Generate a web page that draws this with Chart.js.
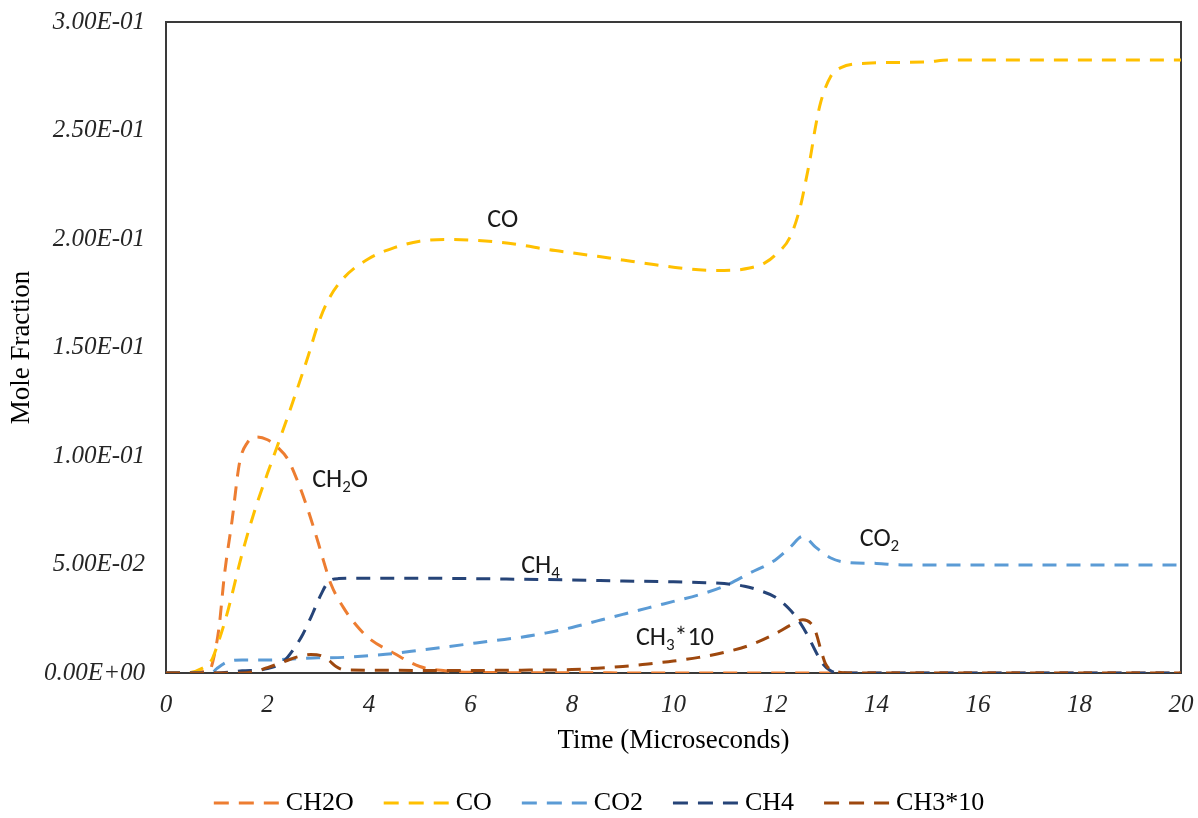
<!DOCTYPE html>
<html>
<head>
<meta charset="utf-8">
<title>Mole Fraction vs Time</title>
<script src="https://cdn.jsdelivr.net/npm/chart.js@4.4.1/dist/chart.umd.min.js"></script>
<style>
  html, body { margin: 0; padding: 0; background: #ffffff; }
  #wrap { width: 1198px; height: 818px; }
</style>
</head>
<body>
<div id="wrap"><canvas id="chart" width="1198" height="818"></canvas></div>
<script>
// ── Data ───────────────────────────────────────────────────────────────────

const xTicksMax = 20;
const yTicksMax = 0.3;

const ch2oTime = [0, 0.85, 0.95, 1.05, 1.15, 1.3, 1.45, 1.6, 1.8, 2.0, 2.2, 2.4, 2.6, 2.8, 3.0, 3.1, 3.25, 3.5, 3.75, 4.0, 4.5, 5.0, 5.5, 6.0, 8, 10, 12, 14, 16, 18, 20];
const ch2oVals = [0, 0.001, 0.008, 0.022, 0.045, 0.070, 0.097, 0.106, 0.1088, 0.1075, 0.104, 0.0985, 0.088, 0.075, 0.060, 0.052, 0.041, 0.030, 0.022, 0.016, 0.009, 0.003, 0.001, 0.0003, 0.0001, 0, 0, 0, 0, 0, 0];

const coTime = [0, 0.4, 0.7, 0.9, 1.0, 1.2, 1.5, 1.75, 2.0, 2.2, 2.5, 2.8, 3.0, 3.2, 3.5, 4.0, 4.5, 5.0, 5.5, 6.0, 6.5, 7.0, 7.5, 8.0, 8.5, 9.0, 9.5, 10.0, 10.5, 11.0, 11.5, 11.8, 12.0, 12.3, 12.5, 12.6, 12.7, 12.8, 12.9, 13.1, 13.3, 13.8, 15.0, 15.4, 20];
const coVals = [0, 0, 0.002, 0.006, 0.012, 0.027, 0.055, 0.075, 0.092, 0.105, 0.125, 0.146, 0.161, 0.172, 0.182, 0.191, 0.196, 0.199, 0.1998, 0.1995, 0.1987, 0.1972, 0.1952, 0.1936, 0.192, 0.1903, 0.1886, 0.187, 0.1858, 0.1855, 0.1866, 0.189, 0.1925, 0.201, 0.215, 0.226, 0.238, 0.252, 0.263, 0.275, 0.279, 0.281, 0.2816, 0.2825, 0.2825];

const co2Time = [0, 0.9, 1.0, 1.2, 1.5, 2.0, 2.5, 3.0, 3.5, 4.0, 4.5, 5.0, 5.5, 6.0, 6.5, 7.0, 7.5, 8.0, 8.5, 9.0, 9.5, 10.0, 10.5, 11.0, 11.5, 12.0, 12.3, 12.55, 12.8, 13.1, 13.4, 14.0, 14.5, 20];
const co2Vals = [0, 0, 0.002, 0.005, 0.006, 0.006, 0.0065, 0.007, 0.0072, 0.008, 0.009, 0.0105, 0.012, 0.0135, 0.015, 0.0165, 0.0185, 0.021, 0.024, 0.027, 0.030, 0.033, 0.036, 0.040, 0.046, 0.052, 0.058, 0.063, 0.058, 0.053, 0.051, 0.0505, 0.0498, 0.0498];

const ch4Time = [0, 1.0, 1.5, 2.0, 2.3, 2.5, 2.7, 2.9, 3.05, 3.2, 3.4, 4.0, 5.0, 6.0, 7.0, 8.0, 9.0, 10.0, 10.5, 11.0, 11.4, 11.7, 12.0, 12.3, 12.5, 12.65, 12.8, 12.95, 13.1, 13.3, 20];
const ch4Vals = [0, 0, 0.001, 0.002, 0.005, 0.0105, 0.018, 0.028, 0.036, 0.042, 0.0435, 0.0437, 0.0437, 0.0435, 0.0432, 0.0429, 0.0424, 0.042, 0.0417, 0.0412, 0.040, 0.038, 0.035, 0.029, 0.023, 0.017, 0.010, 0.004, 0.001, 0, 0];

const ch3Time = [0, 1.5, 1.8, 2.0, 2.3, 2.6, 2.85, 3.05, 3.2, 3.35, 3.5, 4.0, 5.0, 6.0, 7.0, 8.0, 8.5, 9.0, 9.5, 10.0, 10.5, 11.0, 11.5, 12.0, 12.3, 12.55, 12.7, 12.8, 12.9, 13.0, 13.2, 13.5, 20];
const ch3Vals = [0, 0, 0.001, 0.0025, 0.005, 0.0075, 0.0085, 0.008, 0.006, 0.003, 0.0015, 0.0013, 0.0012, 0.0012, 0.0013, 0.0016, 0.0022, 0.003, 0.0042, 0.0055, 0.0072, 0.0095, 0.0128, 0.018, 0.022, 0.0245, 0.023, 0.019, 0.011, 0.004, 0.0008, 0, 0];

const seriesNames  = ['CH2O', 'CO', 'CO2', 'CH4', 'CH3*10'];
const seriesColors = ['#ED7D31', '#FFC000', '#5B9BD5', '#264478', '#9E480E'];

// in-plot labels: [parts, time, value]  (parts: [text, isSubscript])
const curveLabels = [
    [[['CO', false]], 6.33, 0.2085],
    [[['CH', false], ['2', true], ['O', false]], 2.88, 0.0889],
    [[['CH', false], ['4', true]], 7.0, 0.0493],
    [[['CH', false], ['3', true], ['*10', false]], 9.26, 0.0161],
    [[['CO', false], ['2', true]], 13.67, 0.0617]
];

// ── Helpers ─────────────────────────────────────────────────────────────────

const SERIF = '"Liberation Serif", "Times New Roman", serif';
const SANS  = 'Carlito, Lato, "Open Sans", sans-serif';
const DASH  = [14, 10];

function toPoints(times, vals) {
    return times.map((t, i) => ({ x: t, y: vals[i] }));
}

function sciLabel(v) {
    if (Math.abs(v) < 1e-12) return '0.00E+00';
    const e = Math.floor(Math.log10(Math.abs(v)) + 1e-9);
    const m = v / Math.pow(10, e);
    return m.toFixed(2) + 'E' + (e < 0 ? '-' : '+') + String(Math.abs(e)).padStart(2, '0');
}

const seriesData = [
    toPoints(ch2oTime, ch2oVals),
    toPoints(coTime, coVals),
    toPoints(co2Time, co2Vals),
    toPoints(ch4Time, ch4Vals),
    toPoints(ch3Time, ch3Vals)
];

// ── Plugins ─────────────────────────────────────────────────────────────────

// Box round the plot area, drawn under the lines
const frameBox = {
    id: 'frameBox',
    beforeDatasetsDraw(chart) {
        const { ctx, chartArea: a } = chart;
        ctx.save();
        ctx.strokeStyle = '#3a3a3a';
        ctx.lineWidth = 2;
        ctx.strokeRect(a.left, a.top, a.right - a.left, a.bottom - a.top);
        ctx.restore();
    }
};

// Species names written next to the curves
const curveText = {
    id: 'curveText',
    afterDatasetsDraw(chart) {
        const { ctx, scales } = chart;
        const size = 26;
        ctx.save();
        ctx.fillStyle = '#1a1a1a';
        ctx.textBaseline = 'middle';
        ctx.textAlign = 'left';
        curveLabels.forEach(([parts, t, v]) => {
            let x = scales.x.getPixelForValue(t);
            const y = scales.y.getPixelForValue(v);
            parts.forEach(([txt, sub]) => {
                ctx.font = (sub ? Math.round(size * 0.65) : size) + 'px ' + SANS;
                ctx.fillText(txt, x, sub ? y + size * 0.3 : y);
                x += ctx.measureText(txt).width;
            });
        });
        ctx.restore();
    }
};

// Legend row at the bottom, with dashed samples
const dashLegend = {
    id: 'dashLegend',
    afterDraw(chart) {
        const { ctx } = chart;
        const lineLen = 65, gapText = 7, gapItem = 30;
        const y = chart.height - 15;
        ctx.save();
        ctx.font = '26px ' + SERIF;
        const items = chart.data.datasets.map(ds => ({
            label: ds.label, color: ds.borderColor, w: ctx.measureText(ds.label).width
        }));
        const total = items.reduce((s, it) => s + lineLen + gapText + it.w, 0) + gapItem * (items.length - 1);
        let x = (chart.width - total) / 2;
        items.forEach(it => {
            ctx.strokeStyle = it.color;
            ctx.lineWidth = 3;
            ctx.setLineDash([15, 10]);
            ctx.beginPath();
            ctx.moveTo(x, y);
            ctx.lineTo(x + lineLen, y);
            ctx.stroke();
            ctx.setLineDash([]);
            ctx.fillStyle = '#000';
            ctx.textBaseline = 'middle';
            ctx.fillText(it.label, x + lineLen + gapText, y);
            x += lineLen + gapText + it.w + gapItem;
        });
        ctx.restore();
    }
};

// ── Chart ───────────────────────────────────────────────────────────────────

new Chart(document.getElementById('chart'), {
    type: 'line',
    data: {
        datasets: seriesNames.map((name, i) => ({
            label: name,
            data: seriesData[i],
            borderColor: seriesColors[i],
            backgroundColor: seriesColors[i],
            borderWidth: 3,
            borderDash: DASH,
            borderCapStyle: 'butt',
            pointRadius: 0,
            fill: false,
            cubicInterpolationMode: 'monotone',
            order: seriesNames.length - i
        }))
    },
    options: {
        responsive: false,
        animation: false,
        devicePixelRatio: 1,
        layout: { autoPadding: false, padding: { left: 0, right: 17, top: 22, bottom: 55 } },
        plugins: {
            legend: { display: false },
            tooltip: { enabled: false }
        },
        scales: {
            x: {
                type: 'linear',
                min: 0,
                max: xTicksMax,
                grid: { display: false, drawTicks: false },
                border: { display: false },
                ticks: {
                    stepSize: 2,
                    padding: 17,
                    color: '#262626',
                    font: { family: SERIF, size: 25, style: 'italic' }
                },
                title: {
                    display: true,
                    text: 'Time (Microseconds)',
                    color: '#000',
                    font: { family: SERIF, size: 27 },
                    padding: { top: 0, bottom: 6 }
                },
                afterFit(scale) {
                    scale.height = 90;
                    scale.paddingLeft = 0;
                    scale.paddingRight = 0;
                }
            },
            y: {
                min: 0,
                max: yTicksMax,
                grid: { display: false, drawTicks: false },
                border: { display: false },
                ticks: {
                    stepSize: 0.05,
                    padding: 21,
                    color: '#262626',
                    font: { family: SERIF, size: 25, style: 'italic' },
                    callback: v => sciLabel(v)
                },
                title: {
                    display: true,
                    text: 'Mole Fraction',
                    color: '#000',
                    font: { family: SERIF, size: 27 },
                    padding: { top: 6, bottom: 0 }
                },
                afterFit(scale) {
                    scale.width = 166;
                    scale.paddingTop = 0;
                    scale.paddingBottom = 0;
                }
            }
        }
    },
    plugins: [frameBox, curveText, dashLegend]
});
</script>
</body>
</html>
